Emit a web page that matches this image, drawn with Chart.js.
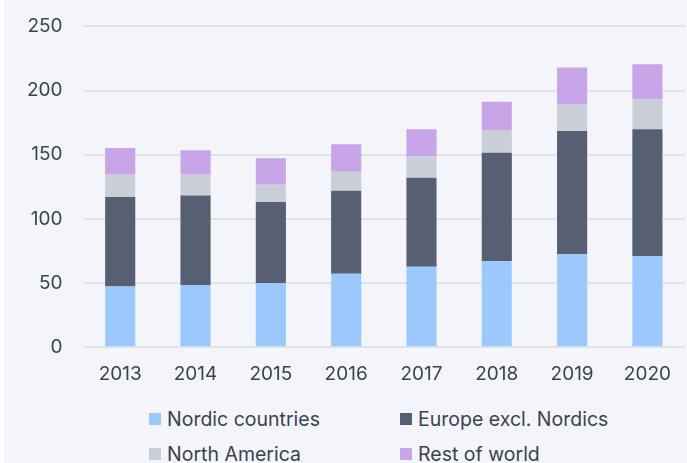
<!DOCTYPE html>
<html>
<head>
<meta charset="utf-8">
<script src="https://cdn.jsdelivr.net/npm/chart.js@4/dist/chart.umd.min.js"></script>
<style>
  html, body { margin: 0; padding: 0; background: #ffffff; }
  #wrap {
    position: absolute; left: 4px; top: 0;
    width: 683px; height: 463px;
    background: #f3f5fa; overflow: hidden;
    font-family: Inter, sans-serif; color: #3c4250;
  }
  #box { position: absolute; left: 0; top: -5px; width: 683px; height: 407px; }
  #legend {
    position: absolute; left: 145px; top: 408px;
    display: grid; grid-template-columns: 251px 260px; row-gap: 13px;
    font-size: 19.5px;
  }
  .item { display: flex; align-items: center; height: 22px; white-space: nowrap; }
  .sw { width: 12px; height: 12px; margin-right: 6px; flex: none; }
</style>
</head>
<body>
<div id="wrap">
  <div id="box"><canvas id="chart"></canvas></div>
  <div id="legend"></div>
</div>
<script>
const years = ['2013', '2014', '2015', '2016', '2017', '2018', '2019', '2020']
const nordic = [47.4, 48.4, 50.0, 57.3, 62.7, 66.9, 72.4, 70.9]
const europe = [69.6, 69.9, 63.1, 64.7, 69.3, 84.7, 96.1, 98.9]
const northAmerica = [17.9, 16.0, 13.5, 14.8, 16.7, 17.7, 20.6, 23.4]
const restOfWorld = [20.4, 19.2, 20.7, 21.3, 21.1, 21.9, 28.9, 27.4]
const yTicks = [0, 50, 100, 150, 200, 250]

const textColor = '#3c4250'

const series = [
  { label: 'Nordic countries', data: nordic, color: '#9bc9ff' },
  { label: 'Europe excl. Nordics', data: europe, color: '#576073' },
  { label: 'North America', data: northAmerica, color: '#c9ced7' },
  { label: 'Rest of world', data: restOfWorld, color: '#c7a5e8' }
]

const ctx = document.getElementById('chart').getContext('2d')
const chart = new Chart(ctx, {
  type: 'bar',
  data: {
    labels: years,
    datasets: series.map(s => ({
      label: s.label,
      data: s.data,
      backgroundColor: s.color,
      borderWidth: 0,
      barPercentage: 0.4,
      categoryPercentage: 1
    }))
  },
  options: {
    responsive: true,
    maintainAspectRatio: false,
    animation: false,
    layout: { padding: { left: 3, right: 0, top: 4, bottom: 0 } },
    scales: {
      x: {
        stacked: true,
        grid: { display: false, drawTicks: false },
        border: { display: false },
        ticks: {
          color: textColor,
          padding: 16,
          font: { family: 'Inter', size: 19 }
        }
      },
      y: {
        stacked: true,
        min: 0,
        max: 250,
        afterBuildTicks: axis => { axis.ticks = yTicks.map(v => ({ value: v })) },
        grid: { color: '#dfe3ea', lineWidth: 2, drawTicks: false },
        border: { display: false },
        ticks: {
          color: textColor,
          padding: 20,
          font: { family: 'Inter', size: 19 }
        }
      }
    },
    plugins: {
      legend: { display: false },
      tooltip: { enabled: false }
    }
  }
})

// two-column legend built from the chart's datasets
const legend = document.getElementById('legend')
chart.data.datasets.forEach(ds => {
  const item = document.createElement('div')
  item.className = 'item'
  const sw = document.createElement('span')
  sw.className = 'sw'
  sw.style.background = ds.backgroundColor
  item.appendChild(sw)
  item.appendChild(document.createTextNode(ds.label))
  legend.appendChild(item)
})
</script>
</body>
</html>
